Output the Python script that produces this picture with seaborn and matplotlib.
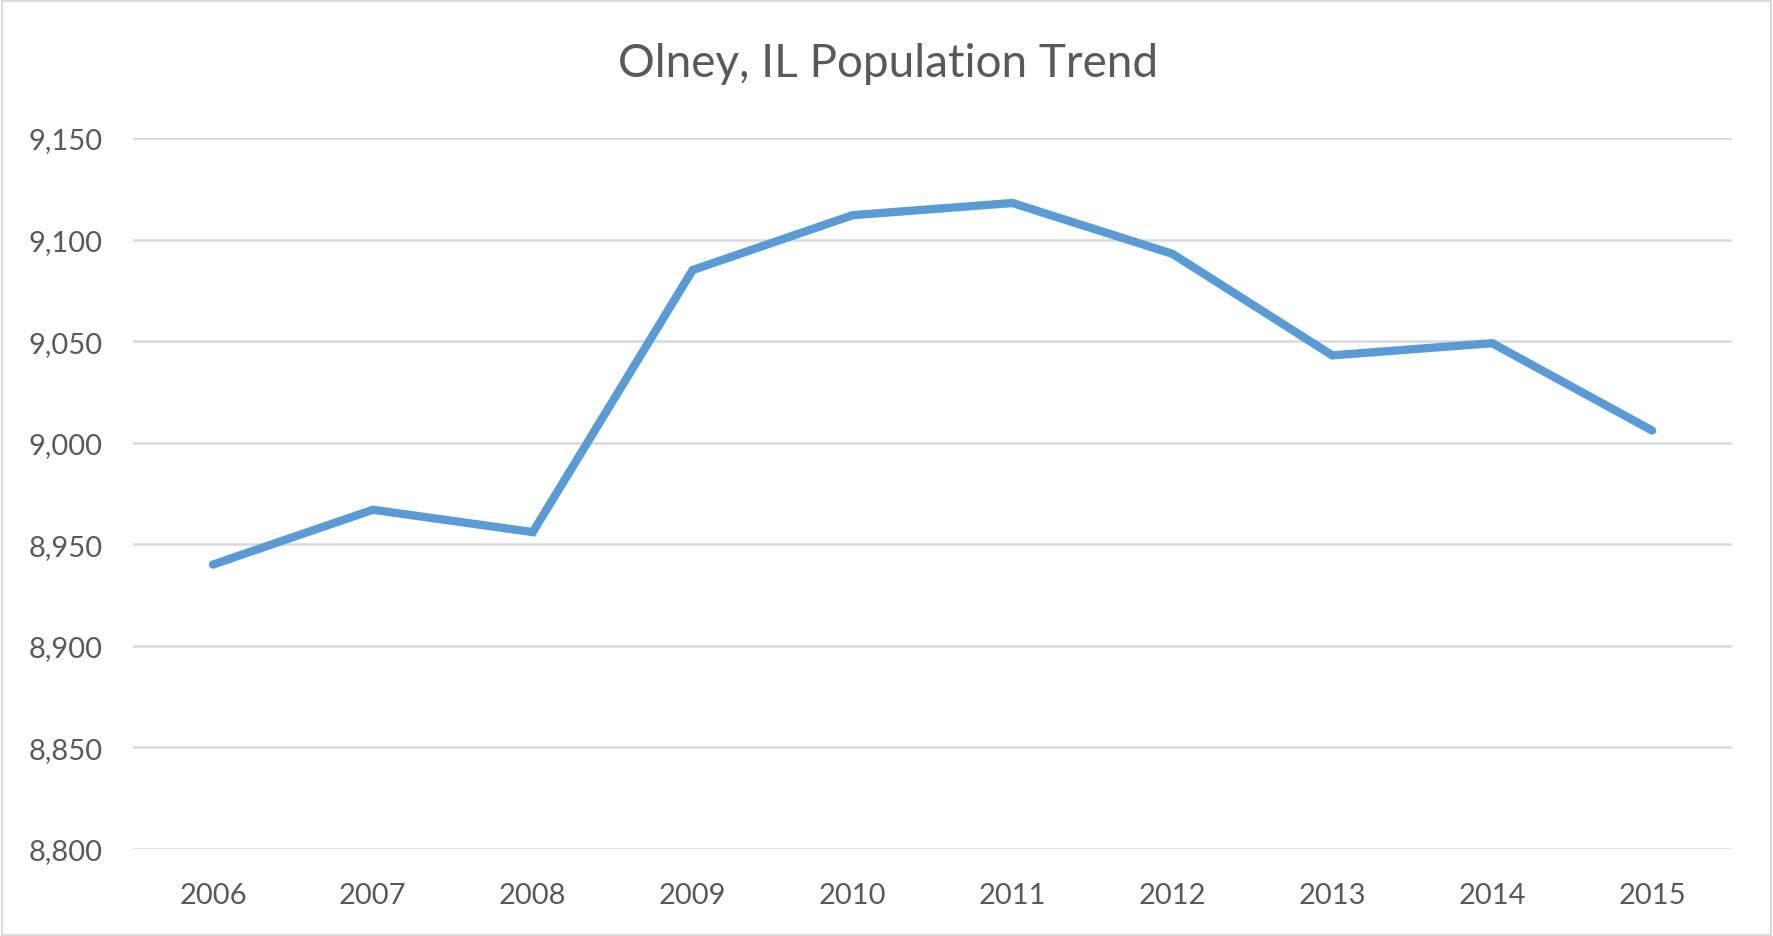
import matplotlib
matplotlib.use("Agg")
import matplotlib.pyplot as plt
import seaborn as sns
import pandas as pd
from matplotlib.patches import Rectangle

years = ["2006", "2007", "2008", "2009", "2010", "2011", "2012", "2013", "2014", "2015"]
population = [8940, 8967, 8956, 9085, 9112, 9118, 9093, 9043, 9049, 9006]
y_ticks = [8800, 8850, 8900, 8950, 9000, 9050, 9100, 9150]

sns.set_theme(style="white")
plt.rcParams["font.family"] = ["Lato", "DejaVu Sans"]

df = pd.DataFrame({"Year": years, "Population": population})

fig = plt.figure(figsize=(17.73, 9.37), dpi=100)
ax = fig.add_axes([133 / 1773, 1 - 850 / 937, (1732 - 133) / 1773, (850 - 139) / 937])

sns.lineplot(data=df, x="Year", y="Population", ax=ax, color="#5B9BD5", linewidth=6,
             solid_joinstyle="miter")

ax.set_xlim(-0.5, len(years) - 0.5)
ax.set_ylim(8800, 9150)
ax.set_yticks(y_ticks)
ax.set_yticklabels([f"{v:,}" for v in y_ticks])
ax.yaxis.grid(True, color="#D9D9D9", linewidth=1.8)
ax.xaxis.grid(False)
for s in ax.spines.values():
    s.set_visible(False)
ax.tick_params(axis="both", length=0, labelsize=21, labelcolor="#595959")
ax.tick_params(axis="y", pad=22)
ax.tick_params(axis="x", pad=24)
ax.set_xlabel("")
ax.set_ylabel("")

fig.text(888 / 1773, 1 - 64 / 937, "Olney, IL Population Trend", ha="center", va="center",
         fontsize=33, color="#595959")

fig.patches.append(Rectangle((0.001, 0.001), 0.998, 0.997, transform=fig.transFigure,
                             fill=False, edgecolor="#D9D9D9", linewidth=1.5))

fig.savefig("out.png", dpi=100)
